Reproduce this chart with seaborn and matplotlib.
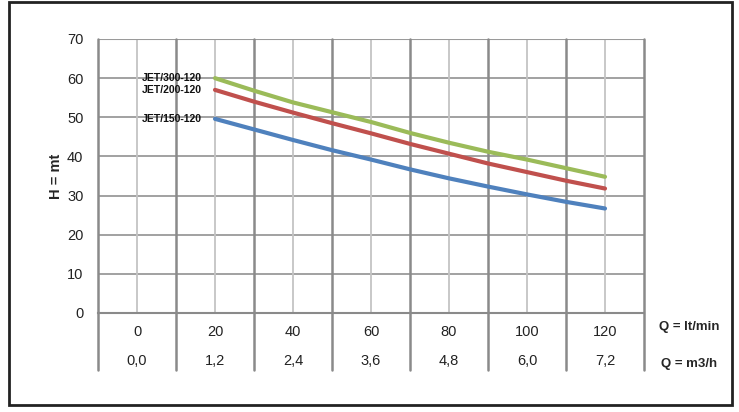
import numpy as np
import pandas as pd
import matplotlib
matplotlib.use("Agg")
import matplotlib.pyplot as plt
import matplotlib.patches as mpatches
import matplotlib.transforms as mtransforms
import seaborn as sns

# flow in lt/min and the matching m3/h labels
q_lt = [0, 20, 40, 60, 80, 100, 120]
q_m3 = ["0,0", "1,2", "2,4", "3,6", "4,8", "6,0", "7,2"]

# pump curves (head in m), read from 20 to 120 lt/min
curve_q = [20, 30, 40, 50, 60, 70, 80, 90, 100, 110, 120]
jet_300 = [60.0, 56.8, 53.8, 51.3, 48.8, 46.0, 43.5, 41.2, 39.2, 37.0, 34.8]
jet_200 = [57.0, 54.0, 51.2, 48.5, 45.9, 43.2, 40.7, 38.2, 36.0, 33.8, 31.8]
jet_150 = [49.6, 46.9, 44.2, 41.6, 39.2, 36.7, 34.4, 32.3, 30.3, 28.4, 26.7]
models = ["JET/300-120", "JET/200-120", "JET/150-120"]
colors = ["#9BBB59", "#C0504D", "#4F81BD"]

y_ticks = [0, 10, 20, 30, 40, 50, 60, 70]

df = pd.concat([
    pd.DataFrame({"Q": curve_q, "H": vals, "model": name})
    for name, vals in zip(models, [jet_300, jet_200, jet_150])
])

sns.set_style("white")
plt.rcParams["font.family"] = ["Liberation Sans", "DejaVu Sans"]

fig = plt.figure(figsize=(7.39, 4.12), dpi=100)
ax = fig.add_axes([98 / 739, 1 - 313 / 412, 546 / 739, 274 / 412])

sns.lineplot(data=df, x="Q", y="H", hue="model", palette=colors,
             linewidth=3, legend=False, ax=ax, zorder=5)

ax.set_xlim(-10, 130)
ax.set_ylim(0, 70)

# grid: horizontal lines, light verticals at categories, dark at boundaries
for y in y_ticks[1:]:
    ax.axhline(y, color="#9a9a9a", lw=1.3, zorder=1)
for x in q_lt:
    ax.axvline(x, color="#c4c4c4", lw=1.3, zorder=1)
blend = mtransforms.blended_transform_factory(ax.transData, ax.transAxes)
table_bottom = -57 / 274
for x in np.arange(-10, 131, 20):
    ax.plot([x, x], [table_bottom, 1], transform=blend, color="#8a8a8a",
            lw=1.8, clip_on=False, zorder=2)

for side in ["left", "right", "top"]:
    ax.spines[side].set_visible(False)
ax.spines["bottom"].set_color("#8a8a8a")
ax.spines["bottom"].set_linewidth(1.5)
ax.axhline(70, color="#9a9a9a", lw=1.5, zorder=1)

ax.set_xticks([])
ax.set_yticks(y_ticks)
ax.tick_params(axis="y", length=0, pad=10.5, labelsize=10.5, labelcolor="#222222")
ax.set_xlabel("")
ax.set_ylabel("H = mt", fontsize=10.5, fontweight="bold", labelpad=3)

# two rows of flow labels under the plot
for q, m in zip(q_lt, q_m3):
    ax.text(q, -19 / 274, str(q), transform=blend, ha="center", va="center",
            fontsize=10.5, color="#222222")
    ax.text(q, -48 / 274, m, transform=blend, ha="center", va="center",
            fontsize=10.5, color="#222222")
ax.text(141.5, -14 / 274, "Q = lt/min", transform=blend, ha="center", va="center",
        fontsize=9.5, fontweight="bold")
ax.text(141.5, -51 / 274, "Q = m3/h", transform=blend, ha="center", va="center",
        fontsize=9.5, fontweight="bold")

# curve names at the start of each line
for name, vals in zip(models, [jet_300, jet_200, jet_150]):
    ax.text(16.5, vals[0], name, ha="right", va="center", fontsize=7.5,
            fontweight="bold", color="#111111", zorder=6)

# outer frame
fig.patches.append(mpatches.Rectangle((9 / 739, 1 - 405 / 412), 723 / 739, 403 / 412,
                                      transform=fig.transFigure, fill=False,
                                      edgecolor="#222222", lw=2))

plt.savefig("out.png", dpi=100)
plt.close()
